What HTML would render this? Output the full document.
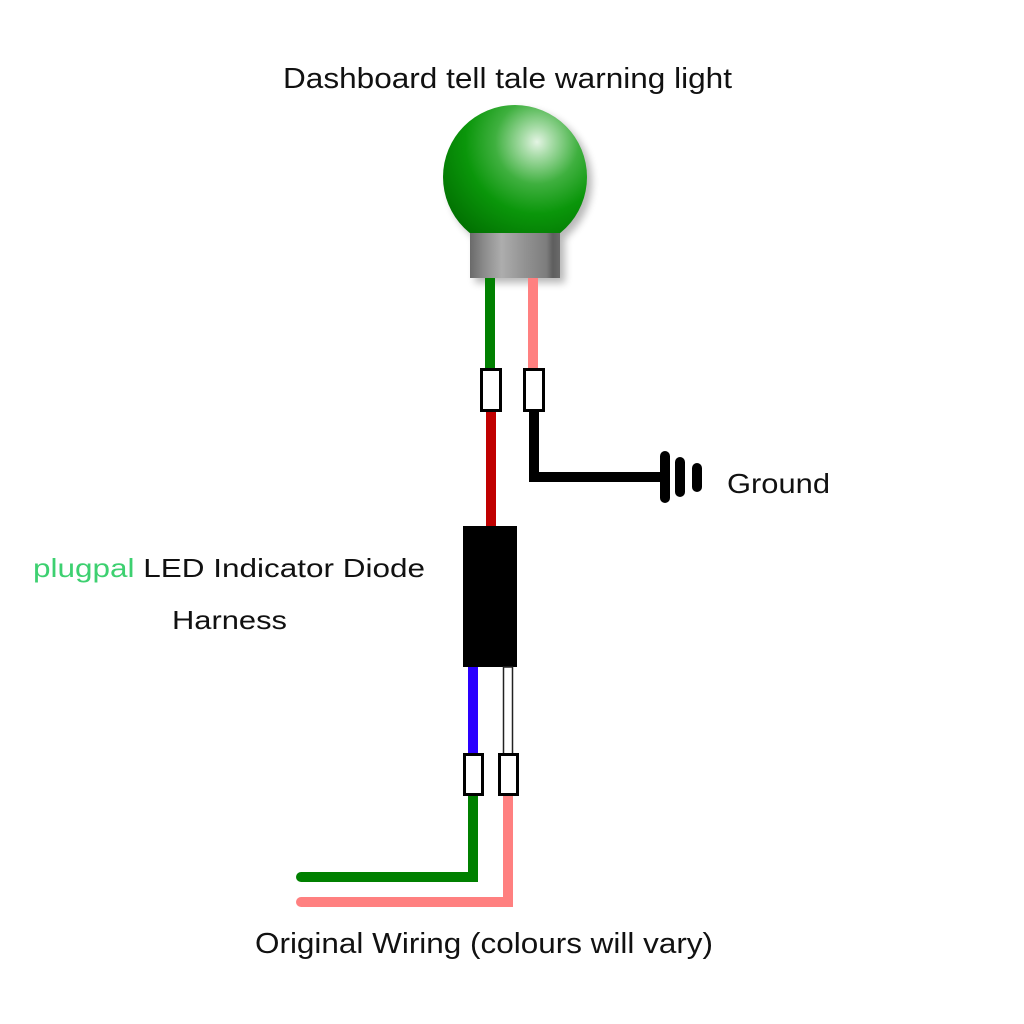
<!DOCTYPE html>
<html><head><meta charset="utf-8"><style>
html,body{margin:0;padding:0;background:#fff;}
svg{display:block;}
text{font-family:"Liberation Sans",sans-serif;fill:#111;}
</style></head><body>
<svg width="1024" height="1024" viewBox="0 0 1024 1024" xmlns="http://www.w3.org/2000/svg">
<defs>
<radialGradient id="sph" cx="537" cy="142" r="120" gradientUnits="userSpaceOnUse">
<stop offset="0" stop-color="#e4f4e4"/>
<stop offset="0.12" stop-color="#a8dca8"/>
<stop offset="0.35" stop-color="#3fb03f"/>
<stop offset="0.6" stop-color="#0a960a"/>
<stop offset="1" stop-color="#006a00"/>
</radialGradient>
<linearGradient id="base" x1="470" y1="0" x2="560" y2="0" gradientUnits="userSpaceOnUse">
<stop offset="0" stop-color="#6a6a6a"/>
<stop offset="0.15" stop-color="#8a8a8a"/>
<stop offset="0.35" stop-color="#adadad"/>
<stop offset="0.6" stop-color="#939393"/>
<stop offset="0.85" stop-color="#7d7d7d"/>
<stop offset="0.92" stop-color="#5e5e5e"/>
<stop offset="1" stop-color="#6a6a6a"/>
</linearGradient>
<filter id="sh" x="-30%" y="-30%" width="160%" height="160%">
<feGaussianBlur stdDeviation="4"/>
</filter>
</defs>

<text x="283" y="88" font-size="29" textLength="449" lengthAdjust="spacingAndGlyphs">Dashboard tell tale warning light</text>

<!-- shadow -->
<g opacity="0.28" filter="url(#sh)" transform="translate(5,5)">
<circle cx="515" cy="177" r="72" fill="#000"/>
<rect x="470" y="233" width="90" height="45" fill="#000"/>
</g>
<circle cx="515" cy="177" r="72" fill="url(#sph)"/>
<rect x="470" y="233" width="90" height="45" fill="url(#base)"/>

<!-- upper wires -->
<line x1="490" y1="278" x2="490" y2="370" stroke="#008000" stroke-width="10"/>
<line x1="533" y1="278" x2="533" y2="370" stroke="#ff8080" stroke-width="10"/>
<line x1="491" y1="410" x2="491" y2="527" stroke="#c00000" stroke-width="10"/>
<path d="M534 410 V477 H664" fill="none" stroke="#000" stroke-width="10" stroke-linejoin="miter"/>
<line x1="665" y1="456" x2="665" y2="498" stroke="#000" stroke-width="10" stroke-linecap="round"/>
<line x1="680" y1="462" x2="680" y2="492" stroke="#000" stroke-width="10" stroke-linecap="round"/>
<line x1="697" y1="468" x2="697" y2="487" stroke="#000" stroke-width="10" stroke-linecap="round"/>
<rect x="481.5" y="369.5" width="19" height="41" fill="#fff" stroke="#000" stroke-width="3"/>
<rect x="524.5" y="369.5" width="19" height="41" fill="#fff" stroke="#000" stroke-width="3"/>

<text x="727" y="493" font-size="28" textLength="103" lengthAdjust="spacingAndGlyphs">Ground</text>

<!-- harness -->
<rect x="463" y="526" width="54" height="141" fill="#000"/>
<line x1="473" y1="667" x2="473" y2="755" stroke="#2a00ff" stroke-width="10"/>
<rect x="503.5" y="667" width="9" height="88" fill="#fff" stroke="#222" stroke-width="1.5"/>

<text x="33" y="577" font-size="26" textLength="392" lengthAdjust="spacingAndGlyphs"><tspan fill="#3dd070">plugpal</tspan> LED Indicator Diode</text>
<text x="172" y="629" font-size="26" textLength="115" lengthAdjust="spacingAndGlyphs">Harness</text>

<!-- lower wires -->
<path d="M473 795 V877 H301" fill="none" stroke="#008000" stroke-width="10" stroke-linecap="round" stroke-linejoin="miter"/>
<path d="M508 795 V902 H301" fill="none" stroke="#ff8080" stroke-width="10" stroke-linecap="round" stroke-linejoin="miter"/>
<rect x="464.5" y="754.5" width="18" height="40" fill="#fff" stroke="#000" stroke-width="3"/>
<rect x="499.5" y="754.5" width="18" height="40" fill="#fff" stroke="#000" stroke-width="3"/>

<text x="255" y="953" font-size="29" textLength="458" lengthAdjust="spacingAndGlyphs">Original Wiring (colours will vary)</text>
</svg>
</body></html>
